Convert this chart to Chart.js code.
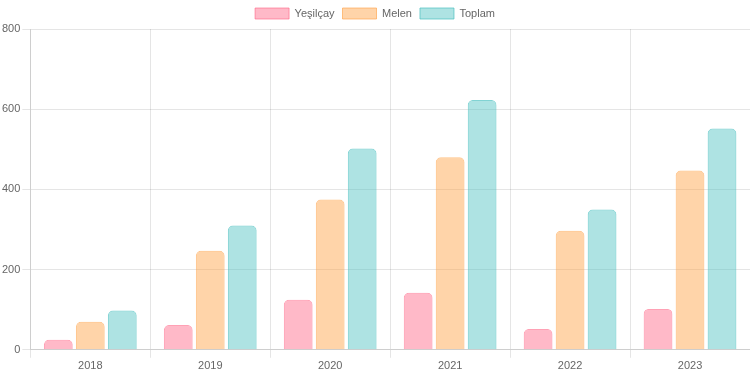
<!DOCTYPE html>
<html lang="tr">
<head>
    <meta charset="UTF-8">
    <title>Yeşilçay ve Melen</title>
    <script src="https://cdn.jsdelivr.net/npm/chart.js"></script>
    <style>
        body, html {
            margin: 0;
            padding: 0;
            background: #fff;
        }
        #wrap {
            width: 750px;
            height: 375px;
        }
    </style>
</head>
<body>
    <div id="wrap"><canvas id="suChart"></canvas></div>
    <script>
        const years = ['2018', '2019', '2020', '2021', '2022', '2023'];
        const yesilcay = [25, 62, 125, 142, 52, 102];
        const melen = [70, 247, 375, 480, 297, 447];
        const toplam = [98, 310, 502, 623, 350, 552];
        const yTicks = [0, 200, 400, 600, 800];

        const ctx = document.getElementById('suChart').getContext('2d');
        new Chart(ctx, {
            type: 'bar',
            data: {
                labels: years,
                datasets: [{
                    label: 'Yeşilçay',
                    data: yesilcay,
                    backgroundColor: 'rgba(255, 99, 132, 0.45)',
                    borderColor: 'rgba(255, 99, 132, 0.6)',
                    borderWidth: 1,
                    borderRadius: 5
                }, {
                    label: 'Melen',
                    data: melen,
                    backgroundColor: 'rgba(255, 159, 64, 0.45)',
                    borderColor: 'rgba(255, 159, 64, 0.6)',
                    borderWidth: 1,
                    borderRadius: 5
                }, {
                    label: 'Toplam',
                    data: toplam,
                    backgroundColor: 'rgba(75, 192, 192, 0.45)',
                    borderColor: 'rgba(75, 192, 192, 0.7)',
                    borderWidth: 1,
                    borderRadius: 5
                }]
            },
            options: {
                responsive: true,
                maintainAspectRatio: false,
                animation: false,
                scales: {
                    y: {
                        min: 0,
                        max: 800,
                        afterBuildTicks: function(axis) {
                            axis.ticks = yTicks.map(v => ({ value: v }));
                        },
                        ticks: { color: '#666', font: { size: 11 }, padding: 2 },
                        grid: { color: 'rgba(0,0,0,0.1)' }
                    },
                    x: {
                        ticks: { color: '#666', font: { size: 11 }, padding: 2 },
                        grid: { color: 'rgba(0,0,0,0.1)' }
                    }
                },
                plugins: {
                    legend: {
                        labels: { color: '#666', font: { size: 11 }, boxWidth: 34, boxHeight: 11, padding: 8 }
                    },
                    tooltip: { enabled: false }
                }
            }
        });
    </script>
</body>
</html>
